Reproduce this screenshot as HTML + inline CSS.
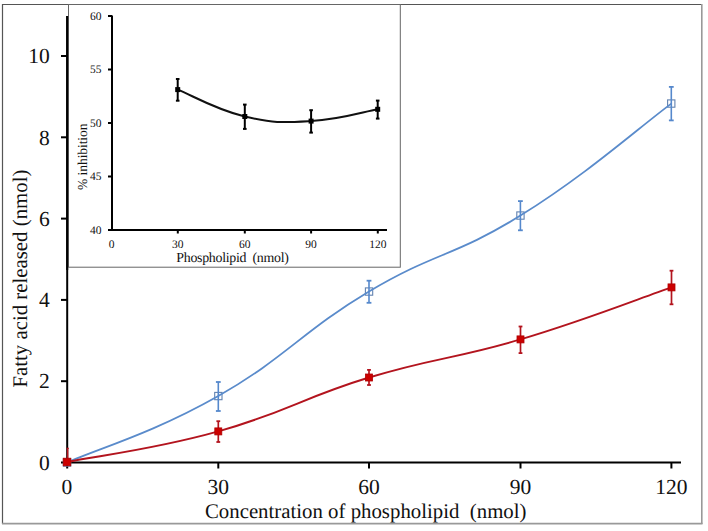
<!DOCTYPE html><html><head><meta charset="utf-8"><style>html,body{margin:0;padding:0;background:#fff;}svg{display:block;}text{font-family:"Liberation Serif",serif;text-rendering:geometricPrecision;}</style></head><body>
<svg width="708" height="531" viewBox="0 0 708 531">
<rect x="0" y="0" width="708" height="531" fill="#fff"/>
<line x1="2.5" y1="4.5" x2="702" y2="4.5" stroke="#555" stroke-width="1.2"/>
<line x1="2.5" y1="4" x2="2.5" y2="524" stroke="#555" stroke-width="1.2"/>
<line x1="701.8" y1="4" x2="701.8" y2="524" stroke="#999" stroke-width="1.6"/>
<line x1="2" y1="523.6" x2="702.5" y2="523.6" stroke="#999" stroke-width="1.6"/>
<line x1="67.2" y1="16" x2="67.2" y2="468.5" stroke="#000" stroke-width="2"/>
<line x1="61" y1="462.5" x2="681" y2="462.5" stroke="#000" stroke-width="2"/>
<line x1="61" y1="381.2" x2="67" y2="381.2" stroke="#000" stroke-width="2"/>
<line x1="61" y1="299.9" x2="67" y2="299.9" stroke="#000" stroke-width="2"/>
<line x1="61" y1="218.6" x2="67" y2="218.6" stroke="#000" stroke-width="2"/>
<line x1="61" y1="137.3" x2="67" y2="137.3" stroke="#000" stroke-width="2"/>
<line x1="61" y1="56.0" x2="67" y2="56.0" stroke="#000" stroke-width="2"/>
<line x1="218.3" y1="462.5" x2="218.3" y2="468.5" stroke="#000" stroke-width="2"/>
<line x1="369.0" y1="462.5" x2="369.0" y2="468.5" stroke="#000" stroke-width="2"/>
<line x1="520.5" y1="462.5" x2="520.5" y2="468.5" stroke="#000" stroke-width="2"/>
<line x1="671.4" y1="462.5" x2="671.4" y2="468.5" stroke="#000" stroke-width="2"/>
<text transform="rotate(0.01 354 265)" x="49.8" y="469.8" font-size="21.5" text-anchor="end" fill="#111">0</text>
<text transform="rotate(0.01 354 265)" x="49.8" y="388.5" font-size="21.5" text-anchor="end" fill="#111">2</text>
<text transform="rotate(0.01 354 265)" x="49.8" y="307.2" font-size="21.5" text-anchor="end" fill="#111">4</text>
<text transform="rotate(0.01 354 265)" x="49.8" y="225.9" font-size="21.5" text-anchor="end" fill="#111">6</text>
<text transform="rotate(0.01 354 265)" x="49.8" y="144.6" font-size="21.5" text-anchor="end" fill="#111">8</text>
<text transform="rotate(0.01 354 265)" x="49.8" y="63.3" font-size="21.5" text-anchor="end" fill="#111">10</text>
<text transform="rotate(0.01 354 265)" x="67.0" y="493.6" font-size="21.5" text-anchor="middle" fill="#111">0</text>
<text transform="rotate(0.01 354 265)" x="218.3" y="493.6" font-size="21.5" text-anchor="middle" fill="#111">30</text>
<text transform="rotate(0.01 354 265)" x="369.0" y="493.6" font-size="21.5" text-anchor="middle" fill="#111">60</text>
<text transform="rotate(0.01 354 265)" x="520.5" y="493.6" font-size="21.5" text-anchor="middle" fill="#111">90</text>
<text transform="rotate(0.01 354 265)" x="671.4" y="493.6" font-size="21.5" text-anchor="middle" fill="#111">120</text>
<text transform="rotate(0.01 354 265)" x="205" y="517.8" font-size="20.8" textLength="321.5" lengthAdjust="spacing" fill="#111" style="white-space:pre">Concentration of phospholipid  (nmol)</text>
<text transform="translate(27.3,387.6) rotate(-89.99)" font-size="20.8" textLength="218" lengthAdjust="spacing" fill="#111" style="white-space:pre">Fatty acid released (nmol)</text>
<rect x="63.4" y="458.9" width="7.3" height="7.3" fill="none" stroke="#6282B0" stroke-width="1.1"/>
<rect x="214.7" y="392.4" width="7.3" height="7.3" fill="none" stroke="#6282B0" stroke-width="1.1"/>
<rect x="365.4" y="287.9" width="7.3" height="7.3" fill="none" stroke="#6282B0" stroke-width="1.1"/>
<rect x="516.8" y="211.9" width="7.3" height="7.3" fill="none" stroke="#6282B0" stroke-width="1.1"/>
<rect x="667.6" y="99.9" width="7.3" height="7.3" fill="none" stroke="#6282B0" stroke-width="1.1"/>
<path d="M67.0,462.5 C100.3,447.9 151.9,433.6 218.3,396.0 C284.7,358.4 302.5,331.2 369.0,291.5 C435.5,251.8 453.9,256.9 520.4,215.6 C586.9,174.3 638.1,128.2 671.3,103.6" fill="none" stroke="#5A8BCB" stroke-width="1.8"/>
<path d="M67.0,462.0 C100.3,455.3 151.9,450.0 218.3,431.4 C284.7,412.8 302.5,397.7 369.0,377.5 C435.5,357.3 453.9,359.2 520.5,339.4 C587.0,319.6 638.3,298.8 671.5,287.4" fill="none" stroke="#B3141E" stroke-width="1.9"/>
<line x1="218.3" y1="382.0" x2="218.3" y2="411.0" stroke="#5588CC" stroke-width="1.6"/>
<line x1="215.9" y1="382.0" x2="220.7" y2="382.0" stroke="#5588CC" stroke-width="1.8"/>
<line x1="215.9" y1="411.0" x2="220.7" y2="411.0" stroke="#5588CC" stroke-width="1.8"/>
<line x1="369.0" y1="280.7" x2="369.0" y2="302.8" stroke="#5588CC" stroke-width="1.6"/>
<line x1="366.6" y1="280.7" x2="371.4" y2="280.7" stroke="#5588CC" stroke-width="1.8"/>
<line x1="366.6" y1="302.8" x2="371.4" y2="302.8" stroke="#5588CC" stroke-width="1.8"/>
<line x1="520.4" y1="201.1" x2="520.4" y2="230.3" stroke="#5588CC" stroke-width="1.6"/>
<line x1="518.0" y1="201.1" x2="522.8" y2="201.1" stroke="#5588CC" stroke-width="1.8"/>
<line x1="518.0" y1="230.3" x2="522.8" y2="230.3" stroke="#5588CC" stroke-width="1.8"/>
<line x1="671.3" y1="86.9" x2="671.3" y2="120.4" stroke="#5588CC" stroke-width="1.6"/>
<line x1="668.9" y1="86.9" x2="673.7" y2="86.9" stroke="#5588CC" stroke-width="1.8"/>
<line x1="668.9" y1="120.4" x2="673.7" y2="120.4" stroke="#5588CC" stroke-width="1.8"/>
<line x1="67.6" y1="448" x2="67.6" y2="460" stroke="#B3141E" stroke-width="1.6"/>
<line x1="66.6" y1="448.3" x2="68.8" y2="448.3" stroke="#B3141E" stroke-width="1.2"/>
<rect x="63.2" y="458.2" width="7.6" height="7.6" fill="#CC0000" stroke="#B00000" stroke-width="0.8"/>
<line x1="218.3" y1="421.2" x2="218.3" y2="442.0" stroke="#B3141E" stroke-width="1.7"/>
<line x1="216.4" y1="421.2" x2="220.2" y2="421.2" stroke="#B3141E" stroke-width="1.8"/>
<line x1="216.4" y1="442.0" x2="220.2" y2="442.0" stroke="#B3141E" stroke-width="1.8"/>
<rect x="214.8" y="427.9" width="7" height="7" fill="#CC0000" stroke="#B00000" stroke-width="0.8"/>
<line x1="369.0" y1="369.9" x2="369.0" y2="385.0" stroke="#B3141E" stroke-width="1.7"/>
<line x1="367.1" y1="369.9" x2="370.9" y2="369.9" stroke="#B3141E" stroke-width="1.8"/>
<line x1="367.1" y1="385.0" x2="370.9" y2="385.0" stroke="#B3141E" stroke-width="1.8"/>
<rect x="365.5" y="374.0" width="7" height="7" fill="#CC0000" stroke="#B00000" stroke-width="0.8"/>
<line x1="520.5" y1="326.5" x2="520.5" y2="353.1" stroke="#B3141E" stroke-width="1.7"/>
<line x1="518.6" y1="326.5" x2="522.4" y2="326.5" stroke="#B3141E" stroke-width="1.8"/>
<line x1="518.6" y1="353.1" x2="522.4" y2="353.1" stroke="#B3141E" stroke-width="1.8"/>
<rect x="517.0" y="335.9" width="7" height="7" fill="#CC0000" stroke="#B00000" stroke-width="0.8"/>
<line x1="671.5" y1="270.7" x2="671.5" y2="304.3" stroke="#B3141E" stroke-width="1.7"/>
<line x1="669.6" y1="270.7" x2="673.4" y2="270.7" stroke="#B3141E" stroke-width="1.8"/>
<line x1="669.6" y1="304.3" x2="673.4" y2="304.3" stroke="#B3141E" stroke-width="1.8"/>
<rect x="668.0" y="283.9" width="7" height="7" fill="#CC0000" stroke="#B00000" stroke-width="0.8"/>
<rect x="68.5" y="4.5" width="331.8" height="262.7" fill="#fff" stroke="#666" stroke-width="1"/>
<line x1="67.2" y1="16" x2="67.2" y2="270" stroke="#000" stroke-width="2"/>
<line x1="112" y1="15.5" x2="112" y2="231" stroke="#000" stroke-width="2"/>
<line x1="108" y1="230.0" x2="387" y2="230.0" stroke="#000" stroke-width="2"/>
<line x1="108" y1="176.5" x2="112" y2="176.5" stroke="#000" stroke-width="2"/>
<line x1="108" y1="123.0" x2="112" y2="123.0" stroke="#000" stroke-width="2"/>
<line x1="108" y1="69.5" x2="112" y2="69.5" stroke="#000" stroke-width="2"/>
<line x1="108" y1="16.0" x2="112" y2="16.0" stroke="#000" stroke-width="2"/>
<line x1="177.8" y1="230.0" x2="177.8" y2="233.5" stroke="#000" stroke-width="2"/>
<line x1="244.8" y1="230.0" x2="244.8" y2="233.5" stroke="#000" stroke-width="2"/>
<line x1="311.1" y1="230.0" x2="311.1" y2="233.5" stroke="#000" stroke-width="2"/>
<line x1="377.8" y1="230.0" x2="377.8" y2="233.5" stroke="#000" stroke-width="2"/>
<text transform="rotate(0.01 354 265)" x="101.5" y="234.0" font-size="11.5" text-anchor="end" fill="#111">40</text>
<text transform="rotate(0.01 354 265)" x="101.5" y="180.5" font-size="11.5" text-anchor="end" fill="#111">45</text>
<text transform="rotate(0.01 354 265)" x="101.5" y="127.0" font-size="11.5" text-anchor="end" fill="#111">50</text>
<text transform="rotate(0.01 354 265)" x="101.5" y="73.5" font-size="11.5" text-anchor="end" fill="#111">55</text>
<text transform="rotate(0.01 354 265)" x="101.5" y="20.0" font-size="11.5" text-anchor="end" fill="#111">60</text>
<text transform="rotate(0.01 354 265)" x="111.5" y="248" font-size="11.5" text-anchor="middle" fill="#111">0</text>
<text transform="rotate(0.01 354 265)" x="177.8" y="248" font-size="11.5" text-anchor="middle" fill="#111">30</text>
<text transform="rotate(0.01 354 265)" x="244.8" y="248" font-size="11.5" text-anchor="middle" fill="#111">60</text>
<text transform="rotate(0.01 354 265)" x="311.1" y="248" font-size="11.5" text-anchor="middle" fill="#111">90</text>
<text transform="rotate(0.01 354 265)" x="377.8" y="248" font-size="11.5" text-anchor="middle" fill="#111">120</text>
<text transform="rotate(0.01 354 265)" x="176.3" y="262" font-size="13.9" textLength="112.6" lengthAdjust="spacing" fill="#111" style="white-space:pre">Phospholipid  (nmol)</text>
<text transform="translate(86.7,189.9) rotate(-89.99)" font-size="13.6" textLength="66.4" lengthAdjust="spacing" fill="#111" style="white-space:pre">% inhibition</text>
<path d="M177.7,89.6 C192.5,95.5 215.5,109.6 244.8,116.5 C274.1,123.4 281.9,122.7 311.1,121.1 C340.3,119.5 363.0,111.9 377.7,109.3" fill="none" stroke="#111" stroke-width="2"/>
<line x1="177.7" y1="79.0" x2="177.7" y2="100.7" stroke="#000" stroke-width="2"/>
<line x1="175.9" y1="79.0" x2="179.5" y2="79.0" stroke="#000" stroke-width="2"/>
<line x1="175.9" y1="100.7" x2="179.5" y2="100.7" stroke="#000" stroke-width="2"/>
<rect x="175.2" y="87.1" width="5" height="5" fill="#000"/>
<line x1="244.8" y1="104.6" x2="244.8" y2="128.9" stroke="#000" stroke-width="2"/>
<line x1="243.0" y1="104.6" x2="246.6" y2="104.6" stroke="#000" stroke-width="2"/>
<line x1="243.0" y1="128.9" x2="246.6" y2="128.9" stroke="#000" stroke-width="2"/>
<rect x="242.3" y="114.0" width="5" height="5" fill="#000"/>
<line x1="311.1" y1="110.2" x2="311.1" y2="132.6" stroke="#000" stroke-width="2"/>
<line x1="309.3" y1="110.2" x2="312.9" y2="110.2" stroke="#000" stroke-width="2"/>
<line x1="309.3" y1="132.6" x2="312.9" y2="132.6" stroke="#000" stroke-width="2"/>
<rect x="308.6" y="118.6" width="5" height="5" fill="#000"/>
<line x1="377.7" y1="100.6" x2="377.7" y2="118.6" stroke="#000" stroke-width="2"/>
<line x1="375.9" y1="100.6" x2="379.5" y2="100.6" stroke="#000" stroke-width="2"/>
<line x1="375.9" y1="118.6" x2="379.5" y2="118.6" stroke="#000" stroke-width="2"/>
<rect x="375.2" y="106.8" width="5" height="5" fill="#000"/>
</svg></body></html>
